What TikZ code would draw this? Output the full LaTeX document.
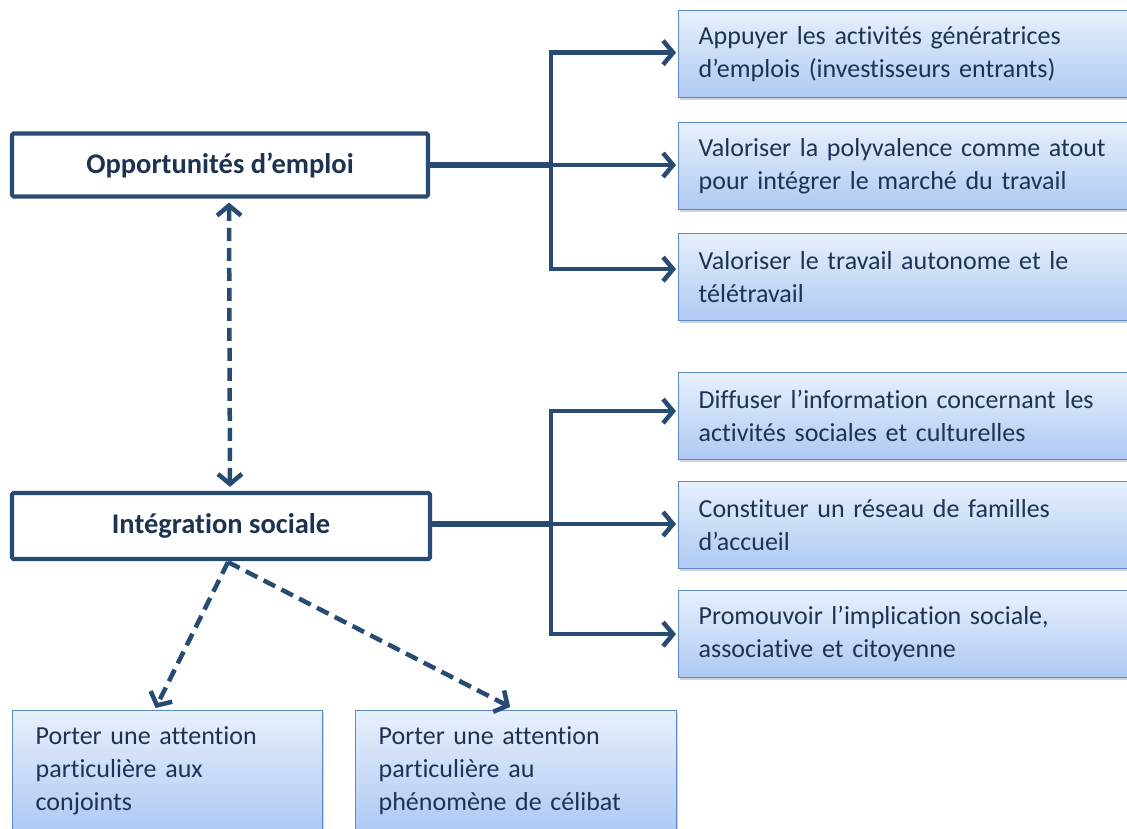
\documentclass[tikz,border=0pt]{standalone}
\usepackage{fontspec}
\setmainfont{Carlito}[RawFeature={-liga}]
\usetikzlibrary{arrows.meta,shadows}
\definecolor{dk}{HTML}{274B72}
\definecolor{txt}{HTML}{1E3352}
\definecolor{bxline}{HTML}{5B8BC7}
\definecolor{bxtop}{HTML}{E8F0FC}
\definecolor{bxbot}{HTML}{AEC9F3}
\tikzset{
  mainbox/.style={draw=dk, line width=4.2pt, fill=white, rounded corners=1.5pt,
    font=\fontsize{28.5}{32}\selectfont\bfseries, text=txt, inner sep=0pt},
  actbox/.style={draw=bxline, line width=1.3pt, top color=bxtop, bottom color=bxbot,
    drop shadow={opacity=0.35, shadow xshift=1.5pt, shadow yshift=-2.5pt},
    font=\fontsize{26}{33}\selectfont, text=txt, align=left, inner ysep=0pt,
    anchor=north west},
  rightbox/.style={actbox, minimum width=470pt, minimum height=87pt,
    text width=430pt, inner xsep=20pt},
  lowbox/.style={actbox, inner xsep=23pt, inner ysep=16pt},
  conn/.style={draw=dk, line width=4.5pt, line join=miter,
    -{Straight Barb[length=10pt,width=24pt,line width=4.5pt]}},
  stem/.style={draw=dk, line width=5.5pt},
  dconn/.style={draw=dk, line width=4.5pt, dash pattern=on 13pt off 7pt,
    -{Straight Barb[length=10pt,width=24pt,line width=4.5pt]}},
}
\begin{document}
\begin{tikzpicture}[x=1pt,y=-1pt]
\useasboundingbox (0,0) rectangle (1127,829);
\clip (0,0) rectangle (1127,829);

% main boxes
\node[mainbox, minimum width=416pt, minimum height=63pt] (opp) at (220,165) {Opportunités d’emploi};
\node[mainbox, minimum width=418pt, minimum height=66pt] (int) at (221,526) {Intégration sociale};

% right boxes
\node[rightbox] (b1) at (678,10) {Appuyer les activités génératrices\\d’emplois (investisseurs entrants)};
\node[rightbox] (b2) at (678,122) {Valoriser la polyvalence comme atout\\pour intégrer le marché du travail};
\node[rightbox] (b3) at (678,233) {Valoriser le travail autonome et le\\télétravail};
\node[rightbox] (b4) at (678,372) {Diffuser l’information concernant les\\activités sociales et culturelles};
\node[rightbox] (b5) at (678,481) {Constituer un réseau de familles\\d’accueil};
\node[rightbox] (b6) at (678,590) {Promouvoir l’implication sociale,\\associative et citoyenne};

% lower boxes
\node[lowbox, text width=264pt] (p1) at (12,710) {Porter une attention\\particulière aux\\conjoints};
\node[lowbox, text width=275pt] (p2) at (355,710) {Porter une attention\\particulière au\\phénomène de célibat};

% junctions
\coordinate (j1) at (551,165);
\coordinate (j2) at (551,524);

% first group
\draw[stem] (opp.east) -- (j1);
\draw[conn] (j1) -- ([xshift=-2pt]b2.west |- j1);
\draw[conn] (j1) |- ([xshift=-2pt,yshift=1.5pt]b1.west);
\draw[conn] (j1) |- ([xshift=-2pt,yshift=8pt]b3.west);

% second group
\draw[stem] (int.east |- j2) -- (j2);
\draw[conn] (j2) -- ([xshift=-2pt]b5.west |- j2);
\draw[conn] (j2) |- ([xshift=-2pt,yshift=5pt]b4.west);
\draw[conn] (j2) |- ([xshift=-2pt]b6.west);

% dashed connectors
\draw[dconn, {Straight Barb[length=10pt,width=24pt,line width=4.5pt]}-{Straight Barb[length=10pt,width=24pt,line width=4.5pt]}]
  ([xshift=9pt,yshift=-4pt]opp.south) -- ([xshift=9pt,yshift=4pt]int.north);
\draw[dconn] ([xshift=7pt,yshift=-1pt]int.south) -- ([xshift=-12pt,yshift=2pt]p1.north);
\draw[dconn] ([xshift=7pt,yshift=-1pt]int.south) -- ([xshift=-6pt,yshift=3pt]p2.north);
\end{tikzpicture}
\end{document}
